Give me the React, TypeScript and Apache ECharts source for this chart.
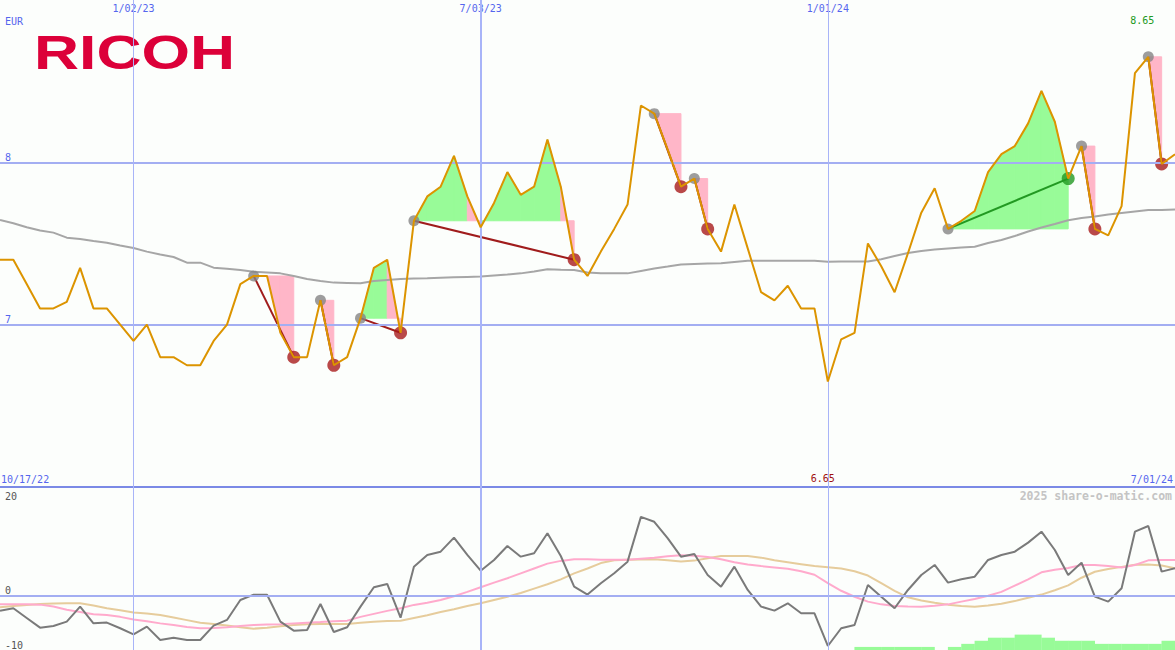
import React, { useEffect, useRef } from "react";
import * as echarts from "echarts";

// ---- data ----
const weekCategories: string[] = Array.from({ length: 89 }, (_, i) => String(i));

const dateTickIdx = [10, 36, 62];
const dateTickLabels = ["1/02/23", "7/03/23", "1/01/24"];
const rangeLabels = ["10/17/22", "7/01/24"];
const priceTicks = [7, 8];
const oscLowTicks = [-10, 0];
const oscHighTicks = [20];

const price = [
  7.40, 7.40, 7.25, 7.10, 7.10, 7.14, 7.35, 7.10, 7.10, 7.00,
  6.90, 7.00, 6.80, 6.80, 6.75, 6.75, 6.90, 7.00, 7.25, 7.30,
  7.30, 6.95, 6.80, 6.80, 7.15, 6.75, 6.80, 7.04, 7.35, 7.40,
  6.95, 7.64, 7.79, 7.85, 8.04, 7.79, 7.60, 7.75, 7.94, 7.80,
  7.85, 8.14, 7.85, 7.40, 7.30, 7.45, 7.59, 7.74, 8.35, 8.30,
  8.08, 7.85, 7.90, 7.59, 7.45, 7.74, 7.47, 7.20, 7.15, 7.24,
  7.10, 7.10, 6.65, 6.91, 6.95, 7.50, 7.36, 7.20, 7.44, 7.69,
  7.84, 7.59, 7.64, 7.70, 7.94, 8.05, 8.10, 8.24, 8.44, 8.25,
  7.90, 8.10, 7.59, 7.55, 7.73, 8.55, 8.65, 7.99, 8.05,
];

const movingAvg = [
  7.645, 7.625, 7.60, 7.58, 7.567, 7.536, 7.528, 7.515, 7.505, 7.488,
  7.472, 7.45, 7.432, 7.417, 7.382, 7.382, 7.351, 7.345, 7.337, 7.326,
  7.321, 7.316, 7.30, 7.281, 7.269, 7.259, 7.257, 7.255, 7.269, 7.275,
  7.281, 7.284, 7.286, 7.289, 7.292, 7.294, 7.296, 7.303, 7.309, 7.316,
  7.327, 7.341, 7.338, 7.337, 7.321, 7.316, 7.316, 7.316, 7.331, 7.346,
  7.358, 7.371, 7.374, 7.377, 7.378, 7.386, 7.394, 7.394, 7.394, 7.394,
  7.394, 7.394, 7.388, 7.389, 7.389, 7.389, 7.403, 7.423, 7.441, 7.454,
  7.463, 7.469, 7.475, 7.480, 7.503, 7.522, 7.546, 7.574, 7.599, 7.620,
  7.643, 7.657, 7.666, 7.679, 7.688, 7.697, 7.706, 7.706, 7.709,
];

const tradeStart = [19, 24, 27, 31, 49, 52, 71, 81, 86];
const tradeEnd = [22, 25, 30, 43, 51, 53, 80, 82, 87];

const momentum = [
  -2.76, -2.32, -4.1, -5.89, -5.58, -4.78, -2.02, -5.08, -4.96, -6.0,
  -7.11, -5.7, -8.15, -7.73, -8.15, -8.15, -5.52, -4.47, -0.79, 0.18,
  0.18, -4.78, -6.44, -6.31, -1.53, -6.68, -5.82, -2.02, 1.55, 2.15,
  -4.05, 5.34, 7.49, 8.1, 10.68, 7.49, 4.6, 6.57, 9.15, 7.18,
  7.8, 11.48, 7.3, 1.66, 0.2, 2.28, 4.12, 6.26, 14.5, 13.6,
  10.6, 7.18, 7.67, 3.81, 1.66, 5.34, 1.05, -2.02, -2.76, -1.4,
  -3.24, -3.24, -9.26, -6.0, -5.39, 1.97, -0.18, -2.32, 1.05, 3.81,
  5.65, 2.4, 3.02, 3.5, 6.57, 7.49, 8.1, 9.76, 11.78, 8.41,
  3.81, 6.08, -0.18, -1.1, 1.36, 11.78, 12.83, 4.42, 5.04,
];

const signalPink = [
  -1.58, -1.58, -1.58, -1.65, -2.0, -2.6, -3.0, -3.4, -3.55, -3.9,
  -4.4, -4.7, -5.1, -5.4, -5.75, -6.0, -5.95, -5.8, -5.6, -5.4,
  -5.3, -5.25, -5.1, -4.97, -4.85, -4.7, -4.6, -3.9, -3.35, -2.8,
  -2.3, -1.7, -1.3, -0.8, -0.1, 0.7, 1.55, 2.4, 3.2, 4.1,
  5.0, 5.9, 6.4, 6.7, 6.7, 6.6, 6.6, 6.6, 6.8, 7.0,
  7.25, 7.43, 7.35, 7.1, 6.7, 6.15, 5.75, 5.45, 5.2, 4.95,
  4.5, 3.85, 2.3, 0.9, -0.2, -1.1, -1.6, -1.92, -2.0, -2.02,
  -1.85, -1.6, -1.1, -0.6, 0.0, 0.7, 1.85, 3.0, 4.3, 4.75,
  5.1, 5.65, 5.65, 5.45, 5.2, 5.65, 6.5, 6.57, 6.57,
];

const signalTan = [
  -2.14, -1.9, -1.7, -1.55, -1.45, -1.4, -1.4, -1.8, -2.3, -2.7,
  -3.1, -3.3, -3.55, -4.0, -4.5, -5.0, -5.2, -5.5, -5.8, -6.07,
  -5.9, -5.65, -5.4, -5.26, -5.22, -5.2, -5.2, -5.0, -4.8, -4.68,
  -4.6, -4.1, -3.6, -3.0, -2.5, -1.9, -1.4, -0.8, -0.2, 0.5,
  1.3, 2.1, 3.0, 4.1, 5.0, 6.0, 6.5, 6.6, 6.65, 6.7,
  6.5, 6.3, 6.45, 6.9, 7.3, 7.3, 7.3, 7.0, 6.5, 6.15,
  5.8, 5.45, 5.25, 5.0, 4.5, 3.7, 2.3, 0.9, -0.3, -0.9,
  -1.3, -1.65, -1.9, -2.02, -1.8, -1.5, -1.0, -0.4, 0.2, 1.0,
  1.9, 3.3, 4.4, 4.9, 5.3, 5.7, 5.75, 5.55, 5.04,
];

// step bars spanning [i, i+1]
const trendBars = [
  0, 0, 0, 0, 0, 0, 0, 0, 0, 0,
  0, 0, 0, 0, 0, 0, 0, 0, 0, 0,
  0, 0, 0, 0, 0, 0, 0, 0, 0, 0,
  0, 0, 0, 0, 0, 0, 0, 0, 0, 0,
  0, 0, 0, 0, 0, 0, 0, 0, 0, 0,
  0, 0, 0, 0, 0, 0, 0, 0, 0, 0,
  0, 0, 0, 0, 1, 1, 1, 1, 1, 1,
  0, 1, 2, 3, 4, 4, 5, 5, 4, 3,
  3, 3, 2, 2, 2, 2, 2, 3,
];

const MONO = "DejaVu Sans Mono";
const BLUE_TEXT = "#5566ee";
const GRID_BLUE = "#a3aef2";
const GREEN_FILL = "#98fb98";
const PINK_FILL = "#ffb6c8";
const RED_MARK = "#a81c1c";
const GREEN_MARK = "#229922";

export default function App() {
  const ref = useRef<HTMLDivElement>(null);

  useEffect(() => {
    document.body.style.margin = "0";
    if (!ref.current) return;
    const chart = echarts.init(ref.current, undefined, { renderer: "svg" });

    const verticalLines = dateTickIdx.map((x, k) => ({
      xAxis: x,
      lineStyle: { width: k === 1 ? 2 : 1, color: "#a8b4f8" },
    }));

    const option: any = {
      animation: false,
      backgroundColor: "#fcfefc",
      grid: [
        { left: 0, right: 0, top: 0, height: 487 },
        { left: 0, right: 0, top: 487, height: 163 },
      ],
      xAxis: [
        {
          gridIndex: 0,
          type: "category",
          data: weekCategories,
          boundaryGap: false,
          position: "top",
          axisLine: { show: false },
          axisTick: { show: false },
          splitLine: { show: false },
          axisLabel: {
            inside: true,
            margin: 3,
            interval: (idx: number) => dateTickIdx.includes(idx),
            formatter: (v: string) => {
              const k = dateTickIdx.indexOf(Number(v));
              return k >= 0 ? dateTickLabels[k] : "";
            },
            color: BLUE_TEXT,
            fontFamily: MONO,
            fontSize: 10,
          },
        },
        {
          gridIndex: 1,
          type: "value",
          min: 0,
          max: weekCategories.length - 1,
          position: "top",
          axisLine: { show: true, onZero: false, lineStyle: { color: "#7b8ae6", width: 2 } },
          axisTick: { show: false },
          axisLabel: { show: false },
          splitLine: { show: false },
        },
      ],
      yAxis: [
        {
          gridIndex: 0,
          type: "value",
          position: "left",
          min: 6,
          max: 9,
          interval: 1,
          axisLine: { show: false },
          axisTick: { show: false },
          splitLine: { show: false },
          axisLabel: {
            inside: true,
            margin: 5,
            verticalAlign: "bottom",
            formatter: (v: number) => (priceTicks.includes(v) ? String(v) : ""),
            color: BLUE_TEXT,
            fontFamily: MONO,
            fontSize: 10,
          },
        },
        {
          gridIndex: 1,
          type: "value",
          position: "left",
          min: -10,
          max: 20,
          interval: 10,
          axisLine: { show: false },
          axisTick: { show: false },
          splitLine: { show: false },
          axisLabel: {
            inside: true,
            margin: 5,
            verticalAlign: "bottom",
            formatter: (v: number) => (oscLowTicks.includes(v) ? String(v) : ""),
            color: "#555555",
            fontFamily: MONO,
            fontSize: 10,
          },
        },
        {
          gridIndex: 1,
          type: "value",
          position: "left",
          offset: 0,
          min: -10,
          max: 20,
          interval: 10,
          axisLine: { show: false },
          axisTick: { show: false },
          splitLine: { show: false },
          axisLabel: {
            inside: true,
            margin: 5,
            verticalAlign: "top",
            padding: [4, 0, 0, 0],
            formatter: (v: number) => (oscHighTicks.includes(v) ? String(v) : ""),
            color: "#555555",
            fontFamily: MONO,
            fontSize: 10,
          },
        },
        {
          gridIndex: 1,
          type: "value",
          position: "left",
          min: 0,
          max: 53,
          show: false,
        },
      ],
      series: [
        {
          type: "custom",
          name: "fills",
          xAxisIndex: 0,
          yAxisIndex: 0,
          z: 1,
          encode: { x: 0, y: 1 },
          data: tradeStart.map((s, k) => [s, price[s], tradeEnd[k]]),
          renderItem: (params: any, api: any) => {
            const s = api.value(0);
            const e = api.value(2);
            const base = price[s];
            const children: any[] = [];
            for (let k = s; k < e; k++) {
              if (price[k] === base && price[k + 1] === base) continue;
              const pts = [
                api.coord([k, base]),
                api.coord([k, price[k]]),
                api.coord([k + 1, price[k + 1]]),
                api.coord([k + 1, base]),
              ];
              const col = price[k + 1] >= base ? GREEN_FILL : PINK_FILL;
              children.push({
                type: "polygon",
                shape: { points: pts },
                style: { fill: col, stroke: col, lineWidth: 1 },
              });
            }
            return { type: "group", children };
          },
        },
        {
          type: "line",
          name: "ma",
          xAxisIndex: 0,
          yAxisIndex: 0,
          data: movingAvg,
          symbol: "none",
          z: 2,
          lineStyle: { color: "#a6a6a6", width: 2 },
          markLine: {
            silent: true,
            symbol: "none",
            label: { show: false },
            lineStyle: { type: "solid", color: GRID_BLUE, width: 2 },
            data: [...priceTicks.map((v) => ({ yAxis: v })), ...verticalLines],
          },
        },
        {
          type: "custom",
          name: "tradeLines",
          xAxisIndex: 0,
          yAxisIndex: 0,
          z: 3,
          encode: { x: 0, y: 1 },
          data: tradeStart.map((s, k) => [s, price[s], tradeEnd[k]]),
          renderItem: (params: any, api: any) => {
            const s = api.value(0);
            const e = api.value(2);
            const p1 = api.coord([s, price[s]]);
            const p2 = api.coord([e, price[e]]);
            return {
              type: "line",
              shape: { x1: p1[0], y1: p1[1], x2: p2[0], y2: p2[1] },
              style: { stroke: price[e] > price[s] ? GREEN_MARK : "#a01c1c", lineWidth: 2 },
            };
          },
        },
        {
          type: "scatter",
          name: "entries",
          xAxisIndex: 0,
          yAxisIndex: 0,
          z: 4,
          symbolSize: 11,
          itemStyle: { color: "#858585" },
          data: tradeStart.map((s) => [s, price[s]]),
        },
        {
          type: "scatter",
          name: "exits",
          xAxisIndex: 0,
          yAxisIndex: 0,
          z: 4,
          symbolSize: 13,
          data: tradeEnd.map((e, k) => ({
            value: [e, price[e]],
            itemStyle: { color: price[e] > price[tradeStart[k]] ? GREEN_MARK : RED_MARK },
          })),
        },
        {
          type: "line",
          name: "price",
          xAxisIndex: 0,
          yAxisIndex: 0,
          data: price,
          symbol: "none",
          z: 5,
          lineStyle: { color: "#dc9400", width: 2 },
          markPoint: {
            symbol: "circle",
            symbolSize: 1,
            itemStyle: { color: "rgba(0,0,0,0)" },
            label: {
              show: true,
              position: "inside",
              fontFamily: MONO,
              fontSize: 10,
              formatter: (p: any) => Number(p.value).toFixed(2),
            },
            data: [
              { type: "max", label: { offset: [-6, -36], color: GREEN_MARK } },
              { type: "min", label: { offset: [-5, 97], color: "#a01010" } },
            ],
          },
        },
        {
          type: "bar",
          name: "trend",
          xAxisIndex: 1,
          yAxisIndex: 3,
          barWidth: 13.6,
          z: 1,
          itemStyle: { color: GREEN_FILL },
          data: trendBars.map((h, i) => [i + 0.5, h]),
        },
        {
          type: "line",
          name: "tan",
          xAxisIndex: 1,
          yAxisIndex: 1,
          symbol: "none",
          z: 2,
          lineStyle: { color: "#e6cc9c", width: 2 },
          data: signalTan.map((v, i) => [i, v]),
          markLine: {
            silent: true,
            symbol: "none",
            label: { show: false },
            lineStyle: { type: "solid", color: GRID_BLUE, width: 2 },
            data: [{ yAxis: 0 }, ...verticalLines],
          },
        },
        {
          type: "line",
          name: "pink",
          xAxisIndex: 1,
          yAxisIndex: 1,
          symbol: "none",
          z: 3,
          lineStyle: { color: "#ffaacc", width: 2 },
          data: signalPink.map((v, i) => [i, v]),
        },
        {
          type: "line",
          name: "momentum",
          xAxisIndex: 1,
          yAxisIndex: 1,
          symbol: "none",
          z: 4,
          lineStyle: { color: "#7a7a7a", width: 2 },
          data: momentum.map((v, i) => [i, v]),
        },
      ],
      graphic: [
        {
          type: "text",
          x: 5,
          y: 21,
          style: { text: "EUR", fill: BLUE_TEXT, font: `10px "${MONO}"`, verticalAlign: "middle" },
        },
        {
          type: "text",
          x: 34,
          y: 53,
          scaleX: 1.3,
          style: {
            text: "RICOH",
            fill: "#dc0039",
            font: 'bold 48px "Liberation Sans"',
            verticalAlign: "middle",
          },
        },
        {
          type: "text",
          x: 1,
          y: 479,
          style: { text: rangeLabels[0], fill: BLUE_TEXT, font: `10px "${MONO}"`, verticalAlign: "middle" },
        },
        {
          type: "text",
          x: 1173,
          y: 479,
          style: {
            text: rangeLabels[1],
            fill: BLUE_TEXT,
            font: `10px "${MONO}"`,
            verticalAlign: "middle",
            align: "right",
          },
        },
        {
          type: "text",
          x: 1172,
          y: 496,
          style: {
            text: "2025 share-o-matic.com",
            fill: "#c4c4c4",
            font: `bold 11.5px "${MONO}"`,
            verticalAlign: "middle",
            align: "right",
          },
        },
      ],
    };

    chart.setOption(option);
    return () => chart.dispose();
  }, []);

  return (
    <div
      ref={ref}
      style={{ width: 1175, height: 650, position: "absolute", left: 0, top: 0 }}
    />
  );
}
